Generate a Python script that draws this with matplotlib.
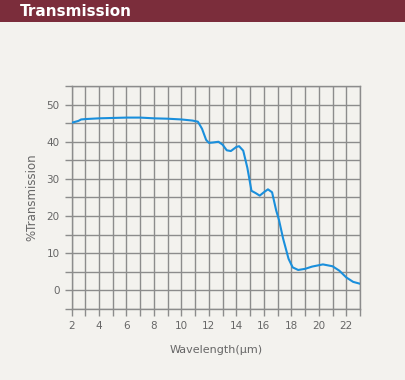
import numpy as np
import matplotlib.pyplot as plt
from matplotlib.patches import Rectangle

# Transmission curve
wavelength = [2.0, 2.5, 2.7, 3.0, 4.0, 5.0, 6.0, 7.0, 8.0, 9.0, 10.0, 10.8, 11.2,
              11.5, 11.8, 12.0, 12.3, 12.7, 13.0, 13.3, 13.6, 14.0, 14.2, 14.5,
              14.8, 15.1, 15.4, 15.7, 16.0, 16.3, 16.6, 16.9, 17.1, 17.4, 17.8,
              18.1, 18.5, 19.0, 19.5, 20.3, 21.0, 21.5, 22.0, 22.5, 23.0]
transmission = [45.1, 45.6, 46.0, 46.1, 46.3, 46.4, 46.5, 46.5, 46.3, 46.2, 46.0,
                45.7, 45.4, 43.5, 40.5, 39.7, 39.8, 40.0, 39.2, 37.7, 37.5, 38.6,
                38.8, 37.6, 33.0, 26.8, 26.2, 25.5, 26.4, 27.2, 26.4, 21.5, 19.0,
                14.0, 8.5, 6.2, 5.5, 5.8, 6.4, 7.0, 6.5, 5.3, 3.5, 2.3, 1.8]
x_ticks = [2, 4, 6, 8, 10, 12, 14, 16, 18, 20, 22]
y_ticks = [0, 10, 20, 30, 40, 50]

bg = '#f3f2ee'
grid_c = '#8c8c8c'
text_c = '#666666'

fig = plt.figure(figsize=(4.05, 3.80), dpi=100, facecolor=bg)

# title bar
fig.patches.append(Rectangle((0, 1 - 22 / 380), 1, 22 / 380, transform=fig.transFigure,
                             facecolor='#7b2d3b', edgecolor='none'))
fig.text(20 / 405, 1 - 11 / 380, 'Transmission', color='white', fontsize=11,
         fontweight='heavy', va='center', ha='left')

ax = fig.add_axes([71.5 / 405, 1 - 309 / 380, (360 - 71.5) / 405, (309 - 86) / 380])
ax.set_facecolor(bg)
ax.plot(wavelength, transmission, color='#1a8fdc', lw=1.5, zorder=3)

ax.set_xlim(2, 23)
ax.set_ylim(-5, 55)
ax.set_xticks(np.arange(2, 24, 1))
ax.set_xticklabels([str(v) if v in x_ticks else '' for v in range(2, 24)])
ax.set_yticks(np.arange(-5, 56, 5))
ax.set_yticklabels([str(v) if v in y_ticks else '' for v in range(-5, 56, 5)])
ax.grid(True, color=grid_c, lw=1)
ax.tick_params(colors=grid_c, labelcolor=text_c, labelsize=7.5, length=5, width=1)
for s in ax.spines.values():
    s.set_color(grid_c)
    s.set_linewidth(1)

ax.set_xlabel('Wavelength(μm)', color=text_c, fontsize=8, labelpad=10)
ax.set_ylabel('%Transmission', color=text_c, fontsize=8.5, labelpad=6)

fig.savefig('out.png', dpi=100, facecolor=bg)
